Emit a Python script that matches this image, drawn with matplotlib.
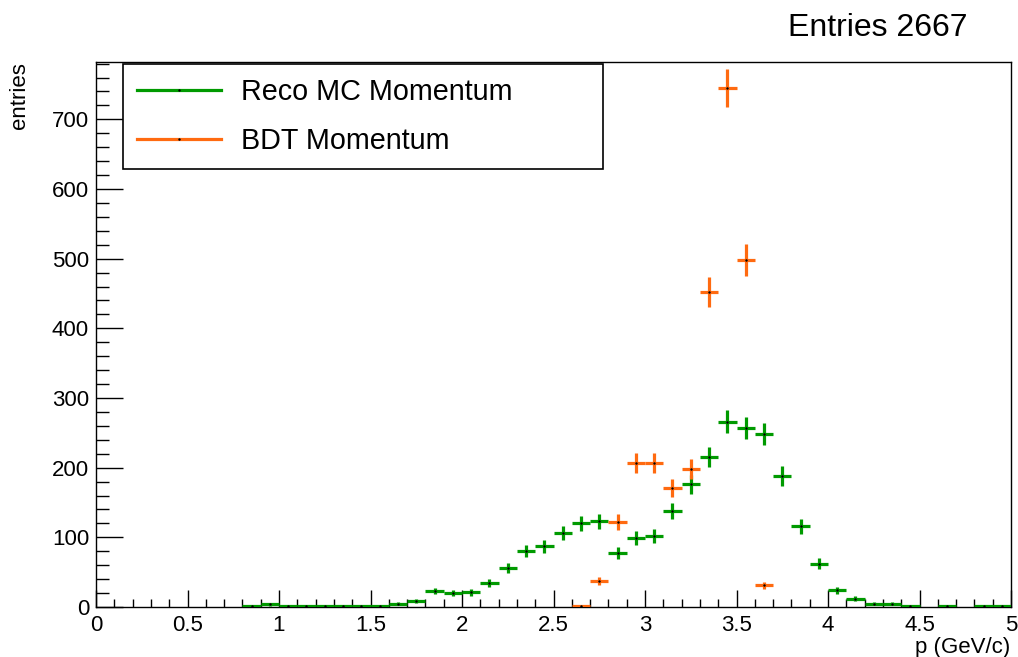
import numpy as np
import matplotlib
matplotlib.use("Agg")
import matplotlib.pyplot as plt
from matplotlib.lines import Line2D
from matplotlib.ticker import MultipleLocator, FuncFormatter

plt.rcParams['font.family'] = ['Liberation Sans', 'DejaVu Sans']

# Histogram bins: 50 bins of 0.1 GeV/c from 0 to 5
bin_width = 0.1
reco_centers = [0.85, 0.95, 1.05, 1.15, 1.25, 1.35, 1.45, 1.55, 1.65, 1.75,
                1.85, 1.95, 2.05, 2.15, 2.25, 2.35, 2.45, 2.55, 2.65, 2.75,
                2.85, 2.95, 3.05, 3.15, 3.25, 3.35, 3.45, 3.55, 3.65, 3.75,
                3.85, 3.95, 4.05, 4.15, 4.25, 4.35, 4.45, 4.65, 4.85, 4.95]
reco_counts = [2, 4, 2, 2, 2, 2, 2, 2, 5, 8,
               23, 20, 21, 34, 56, 80, 87, 106, 120, 123,
               77, 99, 102, 138, 176, 215, 266, 257, 248, 188,
               116, 62, 24, 12, 5, 5, 2, 2, 2, 2]

bdt_centers = [2.65, 2.75, 2.85, 2.95, 3.05, 3.15, 3.25, 3.35, 3.45, 3.55, 3.65]
bdt_counts = [1, 37, 122, 206, 206, 171, 198, 452, 745, 498, 31]

labels = ["Reco MC Momentum", "BDT Momentum"]
green = "#009a00"
orange = "#ff6a10"

W, H = 1018, 657
fig = plt.figure(figsize=(W / 100, H / 100), dpi=100)
ax = fig.add_axes([96 / W, 1 - 607 / H, (1011 - 96) / W, (607 - 62) / H])


def draw_hist(centers, counts, color):
    c = np.asarray(centers, float)
    n = np.asarray(counts, float)
    ax.errorbar(c, n, xerr=bin_width / 2, yerr=np.sqrt(n), fmt='none',
                ecolor=color, elinewidth=2.3, capsize=0, zorder=3)
    ax.plot(c, n, ls='none', marker='.', ms=1.5, color='black', zorder=4)


draw_hist(reco_centers, reco_counts, green)
draw_hist(bdt_centers, bdt_counts, orange)

ymax = max(bdt_counts) * 1.05
ax.set_xlim(0, 5)
ax.set_ylim(0, ymax)

ax.xaxis.set_major_locator(MultipleLocator(0.5))
ax.xaxis.set_minor_locator(MultipleLocator(0.1))
ax.yaxis.set_major_locator(MultipleLocator(100))
ax.yaxis.set_minor_locator(MultipleLocator(20))
ax.xaxis.set_major_formatter(FuncFormatter(lambda v, p: f"{v:g}"))

ax.tick_params(axis='x', which='major', direction='in', length=12, width=1.0,
               labelsize=16, pad=6, top=False)
ax.tick_params(axis='x', which='minor', direction='in', length=6, width=1.0, top=False)
ax.tick_params(axis='y', which='major', direction='in', length=19.5, width=1.0,
               labelsize=16, pad=5, right=False)
ax.tick_params(axis='y', which='minor', direction='in', length=9.5, width=1.0, right=False)
for s in ax.spines.values():
    s.set_linewidth(1.0)

fig.text(1010 / W, 1 - 648 / H, "p (GeV/c)", ha='right', va='center', fontsize=16)
fig.text(20 / W, 1 - 62 / H, "entries", ha='center', va='top', rotation=90, fontsize=16)
fig.text(788 / W, 1 - 28 / H, "Entries 2667", ha='left', va='center', fontsize=23)

handles = [Line2D([], [], color=green, lw=2.3, marker='.', ms=1.5,
                  markerfacecolor='black', markeredgecolor='black'),
           Line2D([], [], color=orange, lw=2.3, marker='.', ms=1.5,
                  markerfacecolor='black', markeredgecolor='black')]
leg = fig.legend(handles, labels, loc='upper left',
                 bbox_to_anchor=(123 / W, 1 - 167 / H, (603 - 123) / W, (167 - 64) / H),
                 mode='expand', fontsize=20.7, frameon=True, fancybox=False,
                 edgecolor='black', framealpha=1, borderpad=0.5, labelspacing=0.72,
                 handlelength=2.9, handletextpad=0.7, borderaxespad=0)
leg.get_frame().set_linewidth(1.2)

fig.savefig("out.png", dpi=100)
